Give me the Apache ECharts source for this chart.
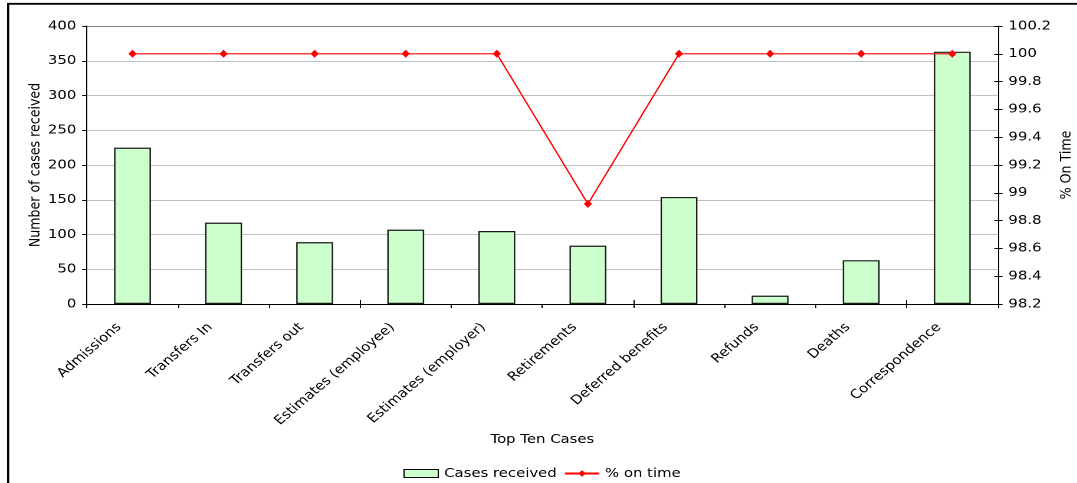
<!DOCTYPE html>
<html>
<head>
<meta charset="utf-8">
<script src="https://cdn.jsdelivr.net/npm/echarts@6/dist/echarts.min.js"></script>
<style>
  html, body { margin: 0; padding: 0; background: #fff; overflow: hidden; }
  /* The chart is laid out at a narrower width and widened to fill the page */
  #chart {
    width: 913px; height: 483px;
    transform: scaleX(1.1797);
    transform-origin: 0 0;
  }
</style>
</head>
<body>
<div id="chart"></div>
<script>
// Top ten case types
const categories = [
  'Admissions', 'Transfers In', 'Transfers out', 'Estimates (employee)',
  'Estimates (employer)', 'Retirements', 'Deferred benefits', 'Refunds',
  'Deaths', 'Correspondence'
];
// Number of cases received per type
const casesReceived = [225, 117, 89, 107, 105, 84, 154, 12, 63, 363];
// Percentage completed on time per type
const pctOnTime = [100, 100, 100, 100, 100, 98.92, 100, 100, 100, 100];

const FONT = 'DejaVu Sans';
const FS = 12.6;
const chart = echarts.init(document.getElementById('chart'), null, { renderer: 'canvas', devicePixelRatio: 2 });

// gridline colours, the top one darker as the plot-area edge
const gridColors = ['#c0c0c0', '#c0c0c0', '#c0c0c0', '#c0c0c0', '#c0c0c0',
                    '#c0c0c0', '#c0c0c0', '#c0c0c0', '#808080'];

const leftRange = { min: 0, max: 400, interval: 50 };
const rightRange = { min: 98.2, max: 100.2, interval: 0.2 };

// an axis that only contributes inward tick marks, so ticks cross the axis line
function innerTicks(base, len) {
  return Object.assign({}, base, {
    name: '',
    axisLine: { show: false },
    axisLabel: { show: false },
    splitLine: { show: false },
    axisTick: { show: true, inside: true, length: len, lineStyle: { color: '#000' } }
  });
}

chart.setOption({
  animation: false,
  backgroundColor: '#ffffff',
  textStyle: { fontFamily: FONT, color: '#000' },
  graphic: [{
    type: 'rect',
    shape: { x: 6.9, y: 3.8, width: 1200, height: 600 },
    style: { fill: 'none', stroke: '#000', lineWidth: 1.8 },
    silent: true
  }],
  grid: {
    left: 73.7, right: 67.2, top: 26, bottom: 179,
    containLabel: false,
    outerBoundsMode: 'none'
  },
  legend: {
    left: 337,
    top: 462,
    itemGap: 6,
    itemWidth: 29,
    itemHeight: 8,
    textStyle: { fontFamily: FONT, fontSize: FS, color: '#000' },
    data: [
      { name: 'Cases received', icon: 'rect', itemStyle: { color: '#CCFFCC', borderColor: '#000', borderWidth: 1 } },
      { name: '% on time' }
    ]
  },
  xAxis: [{
    type: 'category',
    data: categories,
    position: 'bottom',
    name: 'Top Ten Cases',
    nameLocation: 'middle',
    nameGap: 129,
    nameMoveOverlap: false,
    nameTextStyle: { fontFamily: FONT, fontSize: FS, color: '#000' },
    axisLine: { onZero: false, lineStyle: { color: '#000', width: 1 } },
    axisTick: { show: true, length: 4, lineStyle: { color: '#000' } },
    axisLabel: {
      rotate: 45, interval: 0, margin: 10,
      padding: [0, 16, 0, 0],
      fontFamily: FONT, fontSize: FS, color: '#000'
    },
    splitLine: { show: false }
  }, innerTicks({
    type: 'category',
    data: categories,
    position: 'bottom',
    axisLine: { onZero: false }
  }, 4)],
  yAxis: [{
    type: 'value',
    min: leftRange.min,
    max: leftRange.max,
    interval: leftRange.interval,
    position: 'left',
    name: 'Number of cases received',
    nameLocation: 'middle',
    nameGap: 37,
    nameRotate: 90,
    nameMoveOverlap: false,
    nameTextStyle: { fontFamily: FONT, fontSize: FS, color: '#000' },
    axisLine: { show: true, lineStyle: { color: '#000', width: 1 } },
    axisTick: { show: true, length: 4, lineStyle: { color: '#000' } },
    axisLabel: { margin: 9, fontFamily: FONT, fontSize: FS, color: '#000' },
    splitLine: { show: true, lineStyle: { color: gridColors, width: 1 } }
  }, {
    type: 'value',
    min: rightRange.min,
    max: rightRange.max,
    interval: rightRange.interval,
    position: 'right',
    name: '% On Time',
    nameLocation: 'middle',
    nameGap: 52,
    nameRotate: 90,
    nameMoveOverlap: false,
    nameTextStyle: { fontFamily: FONT, fontSize: FS, color: '#000' },
    axisLine: { show: true, lineStyle: { color: '#000', width: 1 } },
    axisTick: { show: true, length: 4, lineStyle: { color: '#000' } },
    axisLabel: {
      margin: 9, fontFamily: FONT, fontSize: FS, color: '#000',
      formatter: v => String(parseFloat(v.toFixed(1)))
    },
    splitLine: { show: false }
  }, innerTicks({
    type: 'value', position: 'right',
    min: rightRange.min, max: rightRange.max, interval: rightRange.interval
  }, 3)],
  series: [{
    name: 'Cases received',
    type: 'bar',
    xAxisIndex: 0,
    yAxisIndex: 0,
    data: casesReceived,
    barWidth: '40.5%',
    itemStyle: { color: '#CCFFCC', borderColor: '#1a1a1a', borderWidth: 1.2 }
  }, {
    name: '% on time',
    type: 'line',
    xAxisIndex: 0,
    yAxisIndex: 1,
    data: pctOnTime,
    symbol: 'diamond',
    symbolSize: [7, 8],
    lineStyle: { color: '#FF0000', width: 1.2 },
    itemStyle: { color: '#FF0000' }
  }]
});
</script>
</body>
</html>
